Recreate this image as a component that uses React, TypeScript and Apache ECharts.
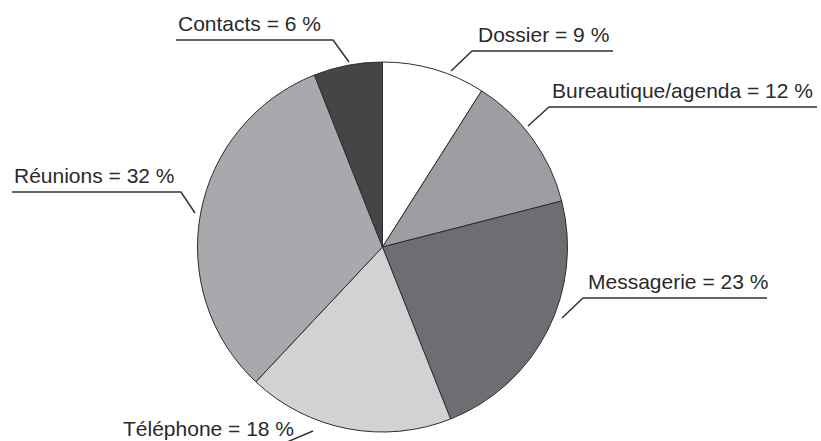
import React, { useEffect, useRef } from "react";
import * as echarts from "echarts";

const categories = ["Dossier", "Bureautique/agenda", "Messagerie", "Téléphone", "Réunions", "Contacts"];
const values = [9, 12, 23, 18, 32, 6];
const colors = ["#ffffff", "#9d9ea1", "#6d6e71", "#d1d2d4", "#a7a9ac", "#444547"];

// Label annotation layout (text left x, underline y, elbow x, underline end x, tip point)
const labelLayouts = [
  { textX: 478, lineY: 51, elbowX: 472, endX: 613, tipX: 451, tipY: 71 },
  { textX: 552, lineY: 107, elbowX: 549, endX: 817, tipX: 528, tipY: 126 },
  { textX: 588, lineY: 298, elbowX: 583, endX: 767, tipX: 562, tipY: 318 },
  { textX: 123, lineY: 445, elbowX: 280, endX: 121, tipX: 313, tipY: 431 },
  { textX: 14, lineY: 192, elbowX: 181, endX: 12, tipX: 195, tipY: 213 },
  { textX: 178, lineY: 40, elbowX: 333, endX: 176, tipX: 349, tipY: 62 },
];

const FONT = "'Liberation Sans', Arial, sans-serif";

export default function App() {
  const ref = useRef<HTMLDivElement>(null);
  useEffect(() => {
    if (!ref.current) return;
    const chart = echarts.init(ref.current, null, { renderer: "svg" });
    chart.setOption({
      animation: false,
      backgroundColor: "#ffffff",
      series: [
        {
          type: "pie",
          center: [382.5, 247],
          radius: 185,
          startAngle: 90,
          clockwise: true,
          avoidLabelOverlap: false,
          itemStyle: { borderColor: "#2e2e2e", borderWidth: 1 },
          emphasis: { disabled: true },
          label: {
            show: true,
            position: "outside",
            formatter: (p: any) => `${p.name} = ${p.value} %`,
            fontFamily: FONT,
            fontSize: 21,
            color: "#2a2a2a",
          },
          labelLine: {
            show: true,
            smooth: false,
            lineStyle: { color: "#333333", width: 1.5 },
          },
          labelLayout: (params: any) => {
            const L = labelLayouts[params.dataIndex];
            return {
              x: L.textX,
              y: L.lineY - 6,
              align: "left",
              verticalAlign: "bottom",
              labelLinePoints: [
                [L.tipX, L.tipY],
                [L.elbowX, L.lineY],
                [L.endX, L.lineY],
              ],
            };
          },
          data: categories.map((name, i) => ({
            name,
            value: values[i],
            itemStyle: { color: colors[i] },
          })),
        },
      ],
    });
    return () => chart.dispose();
  }, []);
  return (
    <div
      ref={ref}
      style={{ position: "fixed", left: 0, top: 0, width: 821, height: 441, background: "#fff" }}
    />
  );
}
